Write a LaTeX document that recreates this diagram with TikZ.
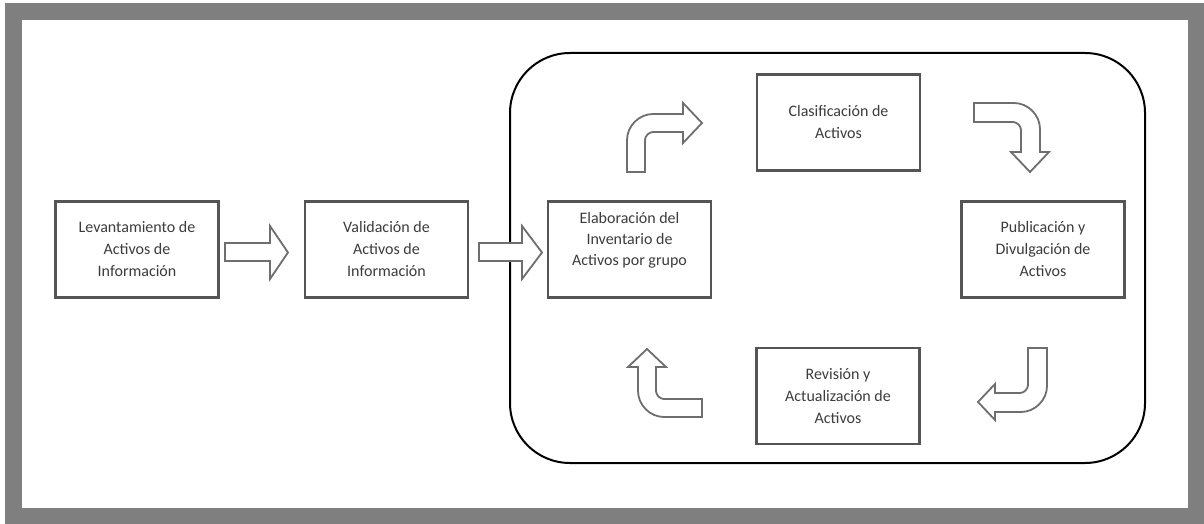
\documentclass[tikz,border=0pt]{standalone}
\usepackage{fontspec}
\setmainfont{Carlito}
\definecolor{framegray}{HTML}{7F7F7F}
\definecolor{boxgray}{HTML}{555555}
\definecolor{arrowgray}{HTML}{6E6E6E}
\definecolor{textgray}{HTML}{3C3C3C}
\begin{document}
\begin{tikzpicture}[x=1pt,y=-1pt,
  stepbox/.style={draw=boxgray, line width=2.4pt, fill=white,
    minimum width=163pt, minimum height=96pt, inner sep=0pt,
    align=center, text=textgray, font=\fontsize{16pt}{22pt}\selectfont},
  steptext/.style={align=center, text=textgray, inner sep=0pt,
    font=\fontsize{16pt}{21pt}\selectfont},
  blockarrow/.style={draw=arrowgray, line width=1.8pt, fill=white, line join=miter},
  cycleframe/.style={draw=black, line width=2pt, rounded corners=60pt}]

% page and grey outer frame
\useasboundingbox (0,0) rectangle (1204,524);
\fill[framegray] (5,3) rectangle (1204,524);
\fill[white] (22,20) rectangle (1188,508);

% rounded frame around the cycle
\draw[cycleframe] (510,53) rectangle (1145,463);

% process steps
\node[stepbox] (lev) at (137,249.5) {Levantamiento de\\Activos de\\Información};
\node[stepbox] (val) at (386.5,249.5) {Validación de\\Activos de\\Información};
\node[stepbox] (elab) at (629.5,249.5) {};
\node[steptext] (elabtxt) at (629.5,240) {Elaboración del\\Inventario de\\Activos por grupo};
\node[stepbox] (clas) at (838.5,122.5) {Clasificación de\\Activos};
\node[stepbox] (pub) at (1043,249.5) {Publicación y\\Divulgación de\\Activos};
\node[stepbox] (rev) at (838,396) {Revisión y\\Actualización de\\Activos};

% straight block arrows
\draw[blockarrow] (225,243) -- (270,243) -- (270,226) -- (288,252.5)
  -- (270,279) -- (270,261) -- (225,261) -- cycle;
\draw[blockarrow] (479,243) -- (522,243) -- (522,226) -- (542,252.5)
  -- (522,279) -- (522,261) -- (479,261) -- cycle;

% bent block arrows of the cycle
% up, then right
\draw[blockarrow] (627,172) -- (645,172) -- (645,140)
  .. controls (645,136) and (649,132) .. (653,132) -- (683,132)
  -- (683,143) -- (702,123) -- (683,103) -- (683,114) -- (653,114)
  .. controls (639,114) and (627,126) .. (627,140) -- cycle;
% right, then down
\draw[blockarrow] (974,103) -- (1014,103)
  .. controls (1028,103) and (1040,115) .. (1040,129) -- (1040,152)
  -- (1049,152) -- (1030,172) -- (1011,152) -- (1021,152) -- (1021,130)
  .. controls (1021,126) and (1017,122) .. (1013,122) -- (974,122) -- cycle;
% down, then left
\draw[blockarrow] (1028,348) -- (1047,348) -- (1047,386)
  .. controls (1047,400) and (1035,412) .. (1021,412) -- (995,412)
  -- (995,420) -- (978,402) -- (995,384) -- (995,393) -- (1020,393)
  .. controls (1024,393) and (1028,389) .. (1028,385) -- cycle;
% left, then up
\draw[blockarrow] (702,399) -- (664,399)
  .. controls (660,399) and (656,395) .. (656,391) -- (656,367)
  -- (666,367) -- (647,349) -- (628,367) -- (638,367) -- (638,391)
  .. controls (638,405) and (650,417) .. (664,417) -- (702,417) -- cycle;
\end{tikzpicture}
\end{document}
